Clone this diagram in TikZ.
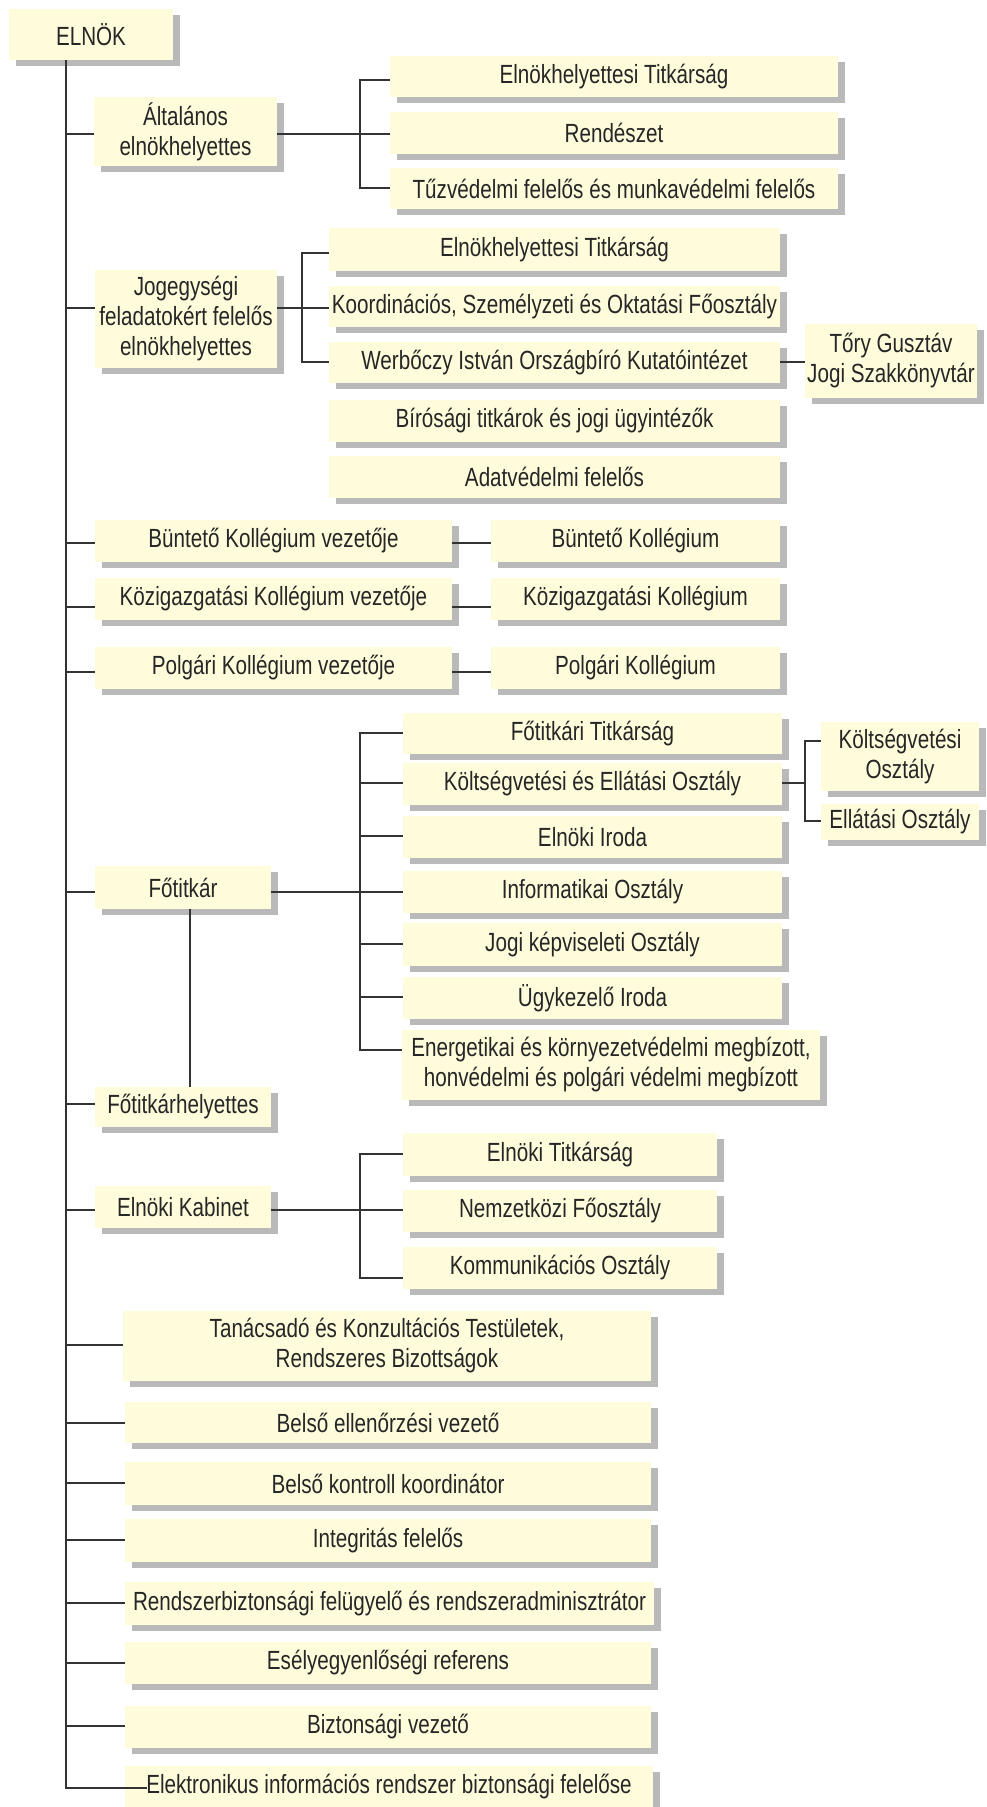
\documentclass[tikz,border=0pt]{standalone}
\usepackage{fontspec}
\setmainfont{Liberation Sans}[FakeStretch=0.785]
\usetikzlibrary{shadows}
\definecolor{boxfill}{HTML}{FFFCDC}
\definecolor{shad}{HTML}{B9B9B9}
\definecolor{linec}{HTML}{333333}
\definecolor{txt}{HTML}{262626}
\newcommand\bx[6]{\node[box, minimum width={(#4-#2)*1pt}, minimum height={(#5-#3)*1pt}] (#1) at ({(#2+#4)/2},{(#3+#5)/2}) {#6};}
\newcommand\yc[2]{\coordinate (#1) at (0,#2);}
\begin{document}
\begin{tikzpicture}[x=1pt,y=-1pt,
  box/.style={fill=boxfill, text=txt, inner sep=0pt, align=center,
    font=\fontsize{26.3}{30}\selectfont,
    drop shadow={shadow xshift=7pt, shadow yshift=-6pt, fill=shad, opacity=1}},
  conn/.style={draw=linec, line width=1.3pt}]
\useasboundingbox (0,0) rectangle (987,1807);
% boxes
\bx{elnok}{9}{9}{173}{60}{ELNÖK}
\bx{alt}{94}{97}{277}{166}{Általános\\elnökhelyettes}
\bx{a1}{390}{56}{838}{97}{Elnökhelyettesi Titkárság}
\bx{a2}{390}{112}{838}{154}{Rendészet}
\bx{a3}{390}{168}{838}{209}{Tűzvédelmi felelős és munkavédelmi felelős}
\bx{jog}{95}{270}{277}{368}{Jogegységi\\feladatokért felelős\\elnökhelyettes}
\bx{j1}{329}{228}{780}{271}{Elnökhelyettesi Titkárság}
\bx{j2}{329}{286}{780}{327}{Koordinációs, Személyzeti és Oktatási Főosztály}
\bx{j3}{329}{342}{780}{383}{Werbőczy István Országbíró Kutatóintézet}
\bx{tory}{805}{324}{977}{398}{Tőry Gusztáv\\Jogi Szakkönyvtár}
\bx{j4}{329}{400}{780}{442}{Bírósági titkárok és jogi ügyintézők}
\bx{j5}{329}{456}{780}{498}{Adatvédelmi felelős}
\bx{bkv}{95}{520}{452}{562}{Büntető Kollégium vezetője}
\bx{bk}{491}{520}{780}{562}{Büntető Kollégium}
\bx{kkv}{95}{578}{452}{620}{Közigazgatási Kollégium vezetője}
\bx{kk}{491}{578}{780}{620}{Közigazgatási Kollégium}
\bx{pkv}{95}{647}{452}{689}{Polgári Kollégium vezetője}
\bx{pk}{491}{647}{780}{689}{Polgári Kollégium}
\bx{fot}{95}{866}{271}{909}{Főtitkár}
\bx{f1}{403}{713}{782}{754}{Főtitkári Titkárság}
\bx{f2}{403}{763}{782}{805}{Költségvetési és Ellátási Osztály}
\bx{f3}{403}{816}{782}{858}{Elnöki Iroda}
\bx{f4}{403}{871}{782}{913}{Informatikai Osztály}
\bx{f5}{403}{923}{782}{966}{Jogi képviseleti Osztály}
\bx{f6}{403}{977}{782}{1019}{Ügykezelő Iroda}
\bx{f7}{402}{1030}{820}{1100}{Energetikai és környezetvédelmi megbízott,\\honvédelmi és polgári védelmi megbízott}
\bx{ko}{821}{722}{979}{791}{Költségvetési\\Osztály}
\bx{eo}{821}{804}{979}{840}{Ellátási Osztály}
\bx{foth}{95}{1087}{271}{1127}{Főtitkárhelyettes}
\bx{ek}{95}{1186}{271}{1228}{Elnöki Kabinet}
\bx{e1}{403}{1133}{717}{1176}{Elnöki Titkárság}
\bx{e2}{403}{1190}{717}{1232}{Nemzetközi Főosztály}
\bx{e3}{403}{1247}{717}{1289}{Kommunikációs Osztály}
\bx{tan}{123}{1311}{651}{1381}{Tanácsadó és Konzultációs Testületek,\\Rendszeres Bizottságok}
\bx{b1}{125}{1402}{651}{1443}{Belső ellenőrzési vezető}
\bx{b2}{125}{1462}{651}{1505}{Belső kontroll koordinátor}
\bx{b3}{125}{1519}{651}{1562}{Integritás felelős}
\bx{b4}{125}{1582}{654}{1625}{Rendszerbiztonsági felügyelő és rendszeradminisztrátor}
\bx{b5}{125}{1642}{651}{1684}{Esélyegyenlőségi referens}
\bx{b6}{125}{1706}{651}{1748}{Biztonsági vezető}
\bx{b7}{125}{1766}{653}{1808}{Elektronikus információs rendszer biztonsági felelőse}
% helper coordinates
\coordinate (T) at (66,0);
\coordinate (BA) at (360,0);
\coordinate (BJ) at (302,0);
\coordinate (BF) at (360,0);
\coordinate (BK) at (805,0);
\coordinate (BE) at (360,0);
\coordinate (V) at (190,0);
\yc{yalt}{134}\yc{yjog}{308}\yc{ybkv}{543}\yc{ykkv}{607}\yc{ypkv}{672}
\yc{yfot}{892}\yc{yfoth}{1104}\yc{yek}{1210}\yc{ytan}{1345}
\yc{yb1}{1423}\yc{yb2}{1483}\yc{yb3}{1540}\yc{yb4}{1603}\yc{yb5}{1663}\yc{yb6}{1726}\yc{yb7}{1788}
\yc{ya1}{80}\yc{ya3}{188}
\yc{yj1}{253}\yc{yj3}{362}
\yc{yf1}{733}\yc{yf2}{783}\yc{yf3}{836}\yc{yf5}{944}\yc{yf6}{997}\yc{yf7}{1050}
\yc{yko}{741}\yc{yeo}{821}
\yc{ye1}{1154}\yc{ye3}{1278}
\coordinate (b7in) at (147,1788);
% trunk
\draw[conn] (elnok.south -| T) -- (T |- yb7) -- (b7in);
\foreach \n in {alt,jog,bkv,kkv,pkv,fot,foth,ek,tan,b1,b2,b3,b4,b5,b6}
  \draw[conn] (T |- y\n) -- (\n.west |- y\n);
% Altalanos
\draw[conn] (alt.east |- yalt) -- (BA |- yalt);
\draw[conn] (a1.west |- ya1) -- (BA |- ya1) -- (BA |- ya3) -- (a3.west |- ya3);
\draw[conn] (BA |- yalt) -- (a2.west |- yalt);
% Jogegysegi
\draw[conn] (jog.east |- yjog) -- (BJ |- yjog);
\draw[conn] (j1.west |- yj1) -- (BJ |- yj1) -- (BJ |- yj3) -- (j3.west |- yj3);
\draw[conn] (BJ |- yjog) -- (j2.west |- yjog);
\draw[conn] (j3.east |- yj3) -- (tory.west |- yj3);
% Kollegiumok
\draw[conn] (bkv.east |- ybkv) -- (bk.west |- ybkv);
\draw[conn] (kkv.east |- ykkv) -- (kk.west |- ykkv);
\draw[conn] (pkv.east |- ypkv) -- (pk.west |- ypkv);
% Fotitkar
\draw[conn] (fot.east |- yfot) -- (BF |- yfot);
\draw[conn] (f1.west |- yf1) -- (BF |- yf1) -- (BF |- yf7) -- (f7.west |- yf7);
\draw[conn] (BF |- yf2) -- (f2.west |- yf2);
\draw[conn] (BF |- yf3) -- (f3.west |- yf3);
\draw[conn] (BF |- yfot) -- (f4.west |- yfot);
\draw[conn] (BF |- yf5) -- (f5.west |- yf5);
\draw[conn] (BF |- yf6) -- (f6.west |- yf6);
\draw[conn] (f2.east |- yf2) -- (BK |- yf2);
\draw[conn] (ko.west |- yko) -- (BK |- yko) -- (BK |- yeo) -- (eo.west |- yeo);
\draw[conn] (fot.south -| V) -- (foth.north -| V);
% Elnoki Kabinet
\draw[conn] (ek.east |- yek) -- (BE |- yek);
\draw[conn] (e1.west |- ye1) -- (BE |- ye1) -- (BE |- ye3) -- (e3.west |- ye3);
\draw[conn] (BE |- yek) -- (e2.west |- yek);
\end{tikzpicture}
\end{document}
